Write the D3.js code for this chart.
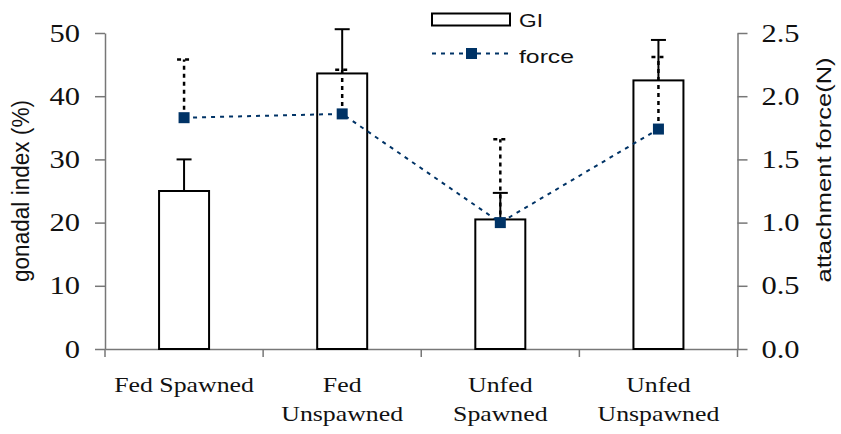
<!DOCTYPE html>
<html>
<head>
<meta charset="utf-8">
<script src="https://cdn.jsdelivr.net/npm/d3@7"></script>
<style>
	body { margin: 0; background: #fff; }
	svg { display: block; }
</style>
</head>
<body>
<svg width="841" height="434"></svg>
<script>
// groups, split into label lines
var categories = ["Fed Spawned", "Fed Unspawned", "Unfed Spawned", "Unfed Unspawned"];
var categoryLines = [["Fed Spawned"], ["Fed", "Unspawned"], ["Unfed", "Spawned"], ["Unfed", "Unspawned"]];

// gonadal index (%) and its error
var giValues = [25.0, 43.6, 20.5, 42.5];
var giErrors = [5.0, 7.0, 4.2, 6.4];

// attachment force (N) and its error
var forceValues = [1.83, 1.86, 1.00, 1.74];
var forceErrors = [0.46, 0.35, 0.66, 0.57];

var leftTicks = [0, 10, 20, 30, 40, 50];
var rightTicks = [0, 0.5, 1.0, 1.5, 2.0, 2.5];

var svg = d3.select("svg"),
	plotLeft = 105, plotRight = 737.5, plotTop = 33, plotBottom = 349,
	navy = "#003366",
	axisColor = "#777";

var x = d3.scaleBand().domain(categories).range([plotLeft, plotRight]).padding(0);
var yGI = d3.scaleLinear().domain([0, 50]).range([plotBottom, plotTop]);
var yF = d3.scaleLinear().domain([0, 2.5]).range([plotBottom, plotTop]);
var barW = 50;

function cx(d, i) { return x(categories[i]) + x.bandwidth() / 2; }

// axes
var gL = svg.append("g")
	.attr("transform", "translate(" + plotLeft + ",0)")
	.call(d3.axisLeft(yGI).tickValues(leftTicks).tickSize(10).tickSizeOuter(0).tickPadding(15).tickFormat(d3.format("d")));

var gR = svg.append("g")
	.attr("transform", "translate(" + plotRight + ",0)")
	.call(d3.axisRight(yF).tickValues(rightTicks).tickSize(10).tickSizeOuter(0).tickPadding(14).tickFormat(d3.format(".1f")));

var gB = svg.append("g")
	.attr("transform", "translate(0," + plotBottom + ")")
	.call(d3.axisBottom(x).tickSize(0).tickSizeOuter(0).tickFormat(""));

[gL, gR, gB].forEach(function(g) {
	g.select(".domain").attr("stroke", axisColor).attr("stroke-width", 1.5);
	g.selectAll(".tick line").attr("stroke", axisColor).attr("stroke-width", 1.5);
});

// bottom tick marks on the band edges
svg.append("g").selectAll("line")
	.data(d3.range(categories.length + 1))
	.enter().append("line")
		.attr("x1", function(d) { return plotLeft + d * x.bandwidth(); })
		.attr("x2", function(d) { return plotLeft + d * x.bandwidth(); })
		.attr("y1", plotBottom)
		.attr("y2", plotBottom + 8)
		.attr("stroke", axisColor)
		.attr("stroke-width", 1.5);

// serif tick labels, a bit wide like the original
gL.selectAll(".tick text")
	.attr("font-family", "Liberation Serif, Times New Roman, serif")
	.attr("font-size", 25)
	.attr("fill", "#111")
	.attr("x", -25 / 1.22)
	.attr("transform", "scale(1.22,1)");

gR.selectAll(".tick text")
	.attr("font-family", "Liberation Serif, Times New Roman, serif")
	.attr("font-size", 25)
	.attr("fill", "#111")
	.attr("x", 24 / 1.22)
	.attr("transform", "scale(1.22,1)");

// category labels
var catLabel = svg.append("g").selectAll("text")
	.data(categoryLines)
	.enter().append("text")
		.attr("transform", function(d, i) { return "translate(" + cx(d, i) + ",392) scale(1.2,1)"; })
		.attr("text-anchor", "middle")
		.attr("font-family", "Liberation Serif, Times New Roman, serif")
		.attr("font-size", 21.5)
		.attr("fill", "#111");

catLabel.selectAll("tspan")
	.data(function(d) { return d; })
	.enter().append("tspan")
		.attr("x", 0)
		.attr("y", function(d, j) { return j * 29; })
		.text(function(d) { return d; });

// axis titles
svg.append("text")
	.attr("transform", "translate(29,191) rotate(-90)")
	.attr("text-anchor", "middle")
	.attr("font-family", "Liberation Sans, Arial, sans-serif")
	.attr("font-size", 23)
	.attr("textLength", 182)
	.attr("lengthAdjust", "spacingAndGlyphs")
	.attr("fill", "#111")
	.text("gonadal index (%)");

svg.append("text")
	.attr("transform", "translate(831,170) rotate(-90)")
	.attr("text-anchor", "middle")
	.attr("font-family", "Liberation Sans, Arial, sans-serif")
	.attr("font-size", 19.5)
	.attr("textLength", 225)
	.attr("lengthAdjust", "spacingAndGlyphs")
	.attr("fill", "#111")
	.text("attachment force(N)");

// GI bars
svg.append("g").selectAll("rect")
	.data(giValues)
	.enter().append("rect")
		.attr("x", function(d, i) { return cx(d, i) - barW / 2; })
		.attr("y", function(d) { return yGI(d); })
		.attr("width", barW)
		.attr("height", function(d) { return plotBottom - yGI(d); })
		.attr("fill", "#fff")
		.attr("stroke", "#000")
		.attr("stroke-width", 2);

// GI error bars (solid)
var giErr = svg.append("g").attr("stroke", "#000").attr("stroke-width", 2);
giErr.selectAll(".v")
	.data(giValues)
	.enter().append("line")
		.attr("x1", cx).attr("x2", cx)
		.attr("y1", function(d) { return yGI(d); })
		.attr("y2", function(d, i) { return yGI(d + giErrors[i]); });
giErr.selectAll(".c")
	.data(giValues)
	.enter().append("line")
		.attr("x1", function(d, i) { return cx(d, i) - 7.5; })
		.attr("x2", function(d, i) { return cx(d, i) + 7.5; })
		.attr("y1", function(d, i) { return yGI(d + giErrors[i]); })
		.attr("y2", function(d, i) { return yGI(d + giErrors[i]); });

// force line
var line = d3.line()
	.x(function(d, i) { return cx(d, i); })
	.y(function(d) { return yF(d); });

svg.append("path")
	.datum(forceValues)
	.attr("d", line)
	.attr("fill", "none")
	.attr("stroke", navy)
	.attr("stroke-width", 2)
	.attr("stroke-dasharray", "4,5");

// force error bars (dotted)
var fErr = svg.append("g").attr("stroke", "#000").attr("stroke-width", 2.5).attr("stroke-dasharray", "4,4");
fErr.selectAll(".v")
	.data(forceValues)
	.enter().append("line")
		.attr("x1", cx).attr("x2", cx)
		.attr("y1", function(d) { return yF(d); })
		.attr("y2", function(d, i) { return yF(d + forceErrors[i]); });
fErr.selectAll(".c")
	.data(forceValues)
	.enter().append("line")
		.attr("x1", function(d, i) { return cx(d, i) - 7; })
		.attr("x2", function(d, i) { return cx(d, i) + 7; })
		.attr("y1", function(d, i) { return yF(d + forceErrors[i]); })
		.attr("y2", function(d, i) { return yF(d + forceErrors[i]); });

// force markers
svg.append("g").selectAll("rect")
	.data(forceValues)
	.enter().append("rect")
		.attr("x", function(d, i) { return cx(d, i) - 5.5; })
		.attr("y", function(d) { return yF(d) - 5.5; })
		.attr("width", 11)
		.attr("height", 11)
		.attr("fill", navy);

// legend
var lg = svg.append("g");
lg.append("rect")
	.attr("x", 432).attr("y", 13.5)
	.attr("width", 78).attr("height", 12)
	.attr("fill", "#fff").attr("stroke", "#000").attr("stroke-width", 2);
lg.append("text")
	.attr("x", 519).attr("y", 26.5)
	.attr("font-family", "Liberation Sans, Arial, sans-serif")
	.attr("font-size", 19)
	.attr("textLength", 24)
	.attr("lengthAdjust", "spacingAndGlyphs")
	.attr("fill", "#111")
	.text("GI");
lg.append("line")
	.attr("x1", 432).attr("x2", 510)
	.attr("y1", 53.5).attr("y2", 53.5)
	.attr("stroke", navy).attr("stroke-width", 2)
	.attr("stroke-dasharray", "4,5");
lg.append("rect")
	.attr("x", 466).attr("y", 48)
	.attr("width", 11).attr("height", 11)
	.attr("fill", navy);
lg.append("text")
	.attr("x", 519).attr("y", 63)
	.attr("font-family", "Liberation Sans, Arial, sans-serif")
	.attr("font-size", 19)
	.attr("textLength", 55)
	.attr("lengthAdjust", "spacingAndGlyphs")
	.attr("fill", "#111")
	.text("force");
</script>
</body>
</html>
